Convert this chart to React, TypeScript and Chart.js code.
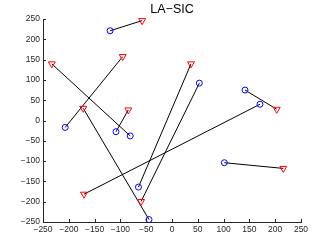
import React, { useEffect, useRef } from "react";
import { Chart, registerables } from "chart.js";

Chart.register(...registerables);

const TITLE = "LA\u2212SIC";
const X_TICK_VALUES = [-250, -200, -150, -100, -50, 0, 50, 100, 150, 200, 250];
const Y_TICK_VALUES = [-250, -200, -150, -100, -50, 0, 50, 100, 150, 200, 250];

// circle end of each pair
const circleX = [-120, -81, -207, -44.6, -108.5, -65, 53, 141.5, 170.5, 101.4];
const circleY = [221, -38, -17, -244, -27.6, -164, 92, 75, 40, -104];
// triangle end of each pair
const triangleX = [-58, -233, -95.5, -172, -84.7, 36.8, -60, 203, -170.5, 215.7];
const triangleY = [246, 139.5, 157.5, 30, 26, 139.5, -199.5, 27.6, -181.5, -118];

const AXIS_COLOR = "#262626";
const FONT_FAMILY = "'Liberation Sans', Arial, Helvetica, sans-serif";

const inwardTicks = {
  id: "inwardTicks",
  afterDraw(chart: any) {
    const { ctx, chartArea, scales } = chart;
    ctx.save();
    ctx.strokeStyle = AXIS_COLOR;
    ctx.lineWidth = 1;
    ctx.beginPath();
    X_TICK_VALUES.forEach((v) => {
      const px = Math.round(scales.x.getPixelForValue(v)) + 0.5;
      ctx.moveTo(px, chartArea.bottom);
      ctx.lineTo(px, chartArea.bottom - 3);
    });
    Y_TICK_VALUES.forEach((v) => {
      const py = Math.round(scales.y.getPixelForValue(v)) + 0.5;
      ctx.moveTo(chartArea.left, py);
      ctx.lineTo(chartArea.left + 3, py);
    });
    ctx.stroke();
    ctx.fillStyle = "#000";
    ctx.font = `12.5px ${FONT_FAMILY}`;
    ctx.textAlign = "center";
    ctx.textBaseline = "alphabetic";
    ctx.fillText(TITLE, (chartArea.left + chartArea.right) / 2, 12.5);
    ctx.restore();
  },
};

export default function App() {
  const ref = useRef<HTMLCanvasElement | null>(null);

  useEffect(() => {
    if (!ref.current) return;
    const lineSets = circleX.map((cx, i) => ({
      data: [
        { x: cx, y: circleY[i] },
        { x: triangleX[i], y: triangleY[i] },
      ],
      showLine: true,
      borderColor: "#000000",
      borderWidth: 1,
      pointRadius: 0,
      clip: false as any,
      order: 2,
    }));
    const chart = new Chart(ref.current, {
      type: "scatter",
      data: {
        datasets: [
          ...lineSets,
          {
            data: circleX.map((x, i) => ({ x, y: circleY[i] })),
            pointStyle: "circle",
            pointRadius: 3,
            borderColor: "#0000ff",
            backgroundColor: "rgba(0,0,0,0)",
            borderWidth: 1,
            clip: false as any,
            order: 0,
          },
          {
            data: triangleX.map((x, i) => ({ x, y: triangleY[i] })),
            pointStyle: "triangle",
            rotation: 180,
            pointRadius: 4,
            borderColor: "#ff0000",
            backgroundColor: "rgba(0,0,0,0)",
            borderWidth: 1,
            clip: false as any,
            order: 0,
          },
        ] as any,
      },
      options: {
        responsive: false,
        animation: false,
        layout: { padding: { left: 0, top: 19, right: 31, bottom: 0 } },
        plugins: {
          legend: { display: false },
          tooltip: { enabled: false },
          title: { display: false },
        },
        scales: {
          x: {
            type: "linear",
            min: -250,
            max: 250,
            afterFit: (s: any) => {
              s.height = 28;
            },
            afterBuildTicks: (s: any) => {
              s.ticks = X_TICK_VALUES.map((v) => ({ value: v }));
            },
            grid: { display: false, drawTicks: false },
            border: { display: true, color: AXIS_COLOR, width: 1 },
            ticks: {
              padding: 3,
              color: AXIS_COLOR,
              font: { family: FONT_FAMILY, size: 8.5 },
              maxRotation: 0,
              autoSkip: false,
              callback: (v: any) => String(v).replace("-", "\u2212"),
            },
          },
          y: {
            type: "linear",
            min: -250,
            max: 250,
            afterFit: (s: any) => {
              s.width = 43;
            },
            afterBuildTicks: (s: any) => {
              s.ticks = Y_TICK_VALUES.map((v) => ({ value: v }));
            },
            grid: { display: false, drawTicks: false },
            border: { display: true, color: AXIS_COLOR, width: 1 },
            ticks: {
              padding: 3,
              color: AXIS_COLOR,
              font: { family: FONT_FAMILY, size: 8.5 },
              autoSkip: false,
              callback: (v: any) => String(v).replace("-", "\u2212"),
            },
          },
        },
      },
      plugins: [inwardTicks],
    });
    return () => chart.destroy();
  }, []);

  return (
    <div style={{ position: "fixed", left: 0, top: 0, width: 332, height: 250, background: "#fff" }}>
      <canvas ref={ref} width={332} height={250} />
    </div>
  );
}
